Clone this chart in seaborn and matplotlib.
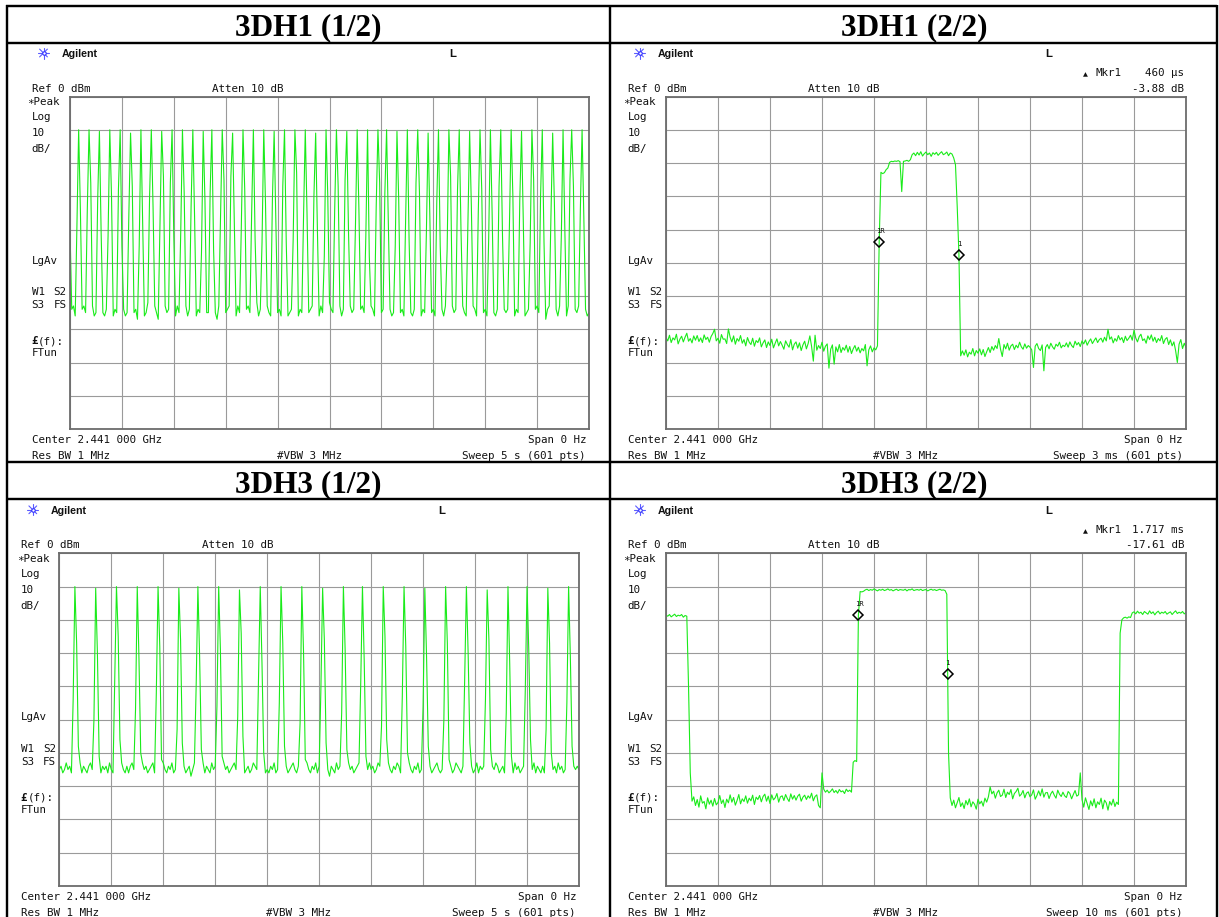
import numpy as np
import matplotlib
matplotlib.use("Agg")
import matplotlib.pyplot as plt
import seaborn as sns

# ---------------------------------------------------------------- data
# 3DH1 (1/2): zero-span sweep 5 s, 301 trace samples (dBm)
floor_3dh1_a = [
    -64, -65, -63, -66, -64, -65, -67, -64, -63, -65, -66, -64, -65, -63, -66, -65, -64, -66, -63, -65,
    -66, -64, -65, -62, -65, -66, -64, -65, -67, -63, -65, -64, -66, -65, -63, -64, -66, -65, -64, -67,
    -63, -65, -64, -66, -65, -62, -64, -66, -65, -63, -65, -67, -64, -65, -66, -63, -65, -64, -66, -65,
    -64, -66, -63, -65, -64, -66, -65, -63, -66, -64, -65, -62, -65, -66, -64, -65, -67, -64, -63, -65,
    -65, -63, -66, -64, -65, -67, -63, -65, -64, -66, -65, -64, -63, -66, -65, -64, -66, -63, -65, -64,
    -66, -65, -64, -63, -65, -66, -64, -65, -62, -66, -64, -65, -67, -64, -63, -65, -66, -64, -65, -63,
    -65, -64, -66, -65, -63, -64, -66, -65, -64, -67, -63, -65, -66, -64, -65, -63, -64, -66, -65, -64,
    -63, -66, -65, -64, -66, -63, -65, -64, -66, -65, -62, -64, -65, -66, -64, -65, -63, -66, -64, -65,
    -66, -64, -63, -65, -64, -66, -65, -67, -64, -63, -65, -66, -64, -65, -63, -64, -66, -65, -64, -62,
    -65, -64, -66, -63, -65, -64, -66, -65, -63, -64, -67, -65, -64, -66, -65, -63, -64, -65, -66, -64,
    -64, -65, -63, -66, -64, -65, -66, -64, -63, -65, -64, -66, -65, -62, -65, -64, -66, -63, -65, -64,
    -66, -63, -65, -64, -66, -65, -64, -63, -65, -66, -64, -65, -67, -63, -64, -66, -65, -64, -63, -65,
    -64, -66, -65, -63, -64, -65, -66, -64, -65, -63, -66, -64, -65, -64, -66, -63, -65, -66, -64, -65,
    -63, -65, -64, -66, -65, -64, -62, -65, -66, -64, -63, -65, -64, -66, -65, -67, -64, -63, -65, -66,
    -65, -64, -66, -63, -65, -64, -65, -66, -63, -64, -65, -66, -64, -65, -63, -66, -64, -65, -64, -66,
    -65,
]
pulse_idx_3dh1 = [0, 5, 11, 17, 23, 29, 35, 41, 47, 53, 59, 65, 71, 77, 82, 88, 94, 100, 106, 112,
                  118, 124, 130, 136, 142, 148, 154, 160, 166, 172, 178, 183, 189, 195, 201, 207,
                  213, 219, 225, 231, 237, 243, 249, 255, 261, 267, 273, 279, 285, 290, 296]
pulse_peak_3dh1 = [-40, -10, -10, -10.5, -10, -10, -11, -10, -10, -10.5,
                   -10, -10, -10, -10.5, -10, -10, -11, -10, -10, -10,
                   -10.5, -10, -10, -10, -11, -10, -10, -10.5, -10, -10,
                   -10, -10, -10.5, -10, -10, -11, -10, -10, -10, -10.5,
                   -10, -10, -10, -10, -10.5, -10, -10, -11, -10, -10,
                   -10]
pulse_lead_3dh1 = [-40, -39, -34, -31, -42, -28, -36, -45, -30, -38,
                   -26, -41, -33, -47, -29, -37, -24, -40, -35, -44,
                   -31, -27, -43, -36, -30, -48, -34, -25, -39, -42,
                   -33, -29, -45, -37, -26, -41, -32, -46, -28, -38,
                   -35, -43, -27, -39, -31, -44, -30, -36, -42, -25,
                   -34]
pulse_trail_3dh1 = [-64, -34, -26, -41, -30, -45, -27, -38, -33, -24,
                    -42, -29, -36, -31, -46, -25, -39, -28, -43, -32,
                    -37, -44, -23, -35, -40, -30, -27, -41, -34, -48,
                    -26, -38, -31, -43, -29, -36, -45, -24, -40, -33,
                    -28, -35, -42, -30, -37, -25, -44, -32, -39, -27,
                    -36]

# 3DH1 (2/2): zero-span sweep 3 ms, 301 trace samples (dBm)
trace_3dh1_b = [
    -72.5, -73.5, -71.8, -74.0, -72.6, -73.2, -71.5, -74.4, -73.0, -72.1, -73.8, -72.4, -71.2, -73.6, -72.8, -74.1, -72.0, -73.3, -71.9, -73.7,
    -72.6, -74.0, -71.7, -73.1, -72.4, -73.9, -72.2, -71.3, -70.0, -73.5, -72.7, -74.2, -71.6, -73.0, -72.9, -74.3, -69.9, -72.4, -73.8, -72.0,
    -74.5, -72.8, -73.6, -71.9, -74.2, -73.1, -75.0, -72.5, -73.9, -74.6, -72.7, -75.1, -73.4, -74.0, -72.6, -75.3, -74.1, -73.2, -75.5, -73.8,
    -74.9, -73.0, -75.6, -74.2, -72.9, -75.0, -73.7, -74.8, -76.0, -73.5, -74.6, -75.4, -73.1, -76.2, -74.5, -73.8, -75.7, -74.1, -76.4, -74.7,
    -73.6, -75.9, -74.3, -72.0, -75.2, -79.6, -71.8, -76.3, -74.9, -75.8, -73.9, -76.6, -75.1, -74.4, -81.7, -76.0, -74.7, -80.5, -75.3, -76.8,
    -74.6, -77.0, -75.5, -76.3, -74.8, -76.9, -75.2, -77.3, -75.9, -74.9, -76.6, -75.4, -77.1, -75.8, -76.5, -74.6, -81.0, -76.2, -75.0, -76.8,
    -75.6, -76.2,
    -75.0, -43.7,
    -22.8, -23.2, -22.9, -22.0, -21.5, -19.8, -19.5,
    -19.6, -19.4, -19.5, -19.3, -19.6, -28.6, -19.5, -19.4, -19.2, -19.5,
    -19.0, -17.5, -17.0, -17.8, -16.8, -17.6, -16.6, -17.9, -17.2, -16.7,
    -17.5, -17.0, -18.0, -16.9, -17.4, -16.8, -17.7, -17.1, -16.6, -17.5,
    -17.2, -16.7, -17.8, -17.0, -17.3, -18.5, -20.5, -33.0, -47.58, -78.0,
    -76.5, -77.8, -76.2, -78.3, -76.9, -77.5, -75.8, -78.0, -76.4, -77.2, -75.9, -77.7, -76.1, -78.2, -76.8, -75.5, -77.0, -75.2, -76.3, -74.9,
    -75.8, -72.8, -76.0, -78.2, -74.6, -75.9, -74.2, -76.3, -75.0, -74.5, -76.1, -74.8, -75.6, -73.9, -75.3, -76.0, -74.4, -75.7, -74.9, -75.4,
    -76.2, -81.5, -75.1, -74.3, -75.8, -76.4, -74.7, -82.5, -75.5, -74.6, -75.9, -74.2, -75.3, -76.0, -74.5, -75.1, -73.9, -75.6, -74.8, -75.2,
    -74.1, -75.4, -73.8, -74.9, -75.5, -73.6, -74.7, -74.0, -75.2, -73.5, -74.4, -73.2, -74.8, -73.7, -72.9, -74.3, -73.4, -72.6, -74.0, -73.1,
    -72.7, -73.9, -72.4, -73.5, -70.0, -73.0, -72.3, -74.1, -72.8, -73.6, -71.9, -73.2, -72.5, -74.0, -72.1, -73.4, -72.7, -71.8, -73.3, -70.3,
    -72.6, -73.8, -72.2, -71.5, -73.4, -72.9, -74.2, -72.0, -73.1, -71.7, -73.6, -72.4, -74.0, -72.8, -73.5, -71.9, -74.3, -73.0, -72.5, -74.6,
    -73.2, -75.0, -73.8, -76.4, -80.0, -74.5, -73.1, -75.8, -74.2, -75.5,
]
mkr_ref_idx_3dh1 = 123
mkr_dt_3dh1 = 0.460      # ms
mkr_ddb_3dh1 = -3.88     # dB

# 3DH3 (1/2): zero-span sweep 5 s, 301 trace samples (dBm)
floor_3dh3_a = [
    -65, -64, -66, -65, -63, -65, -64, -66, -65, -67, -64, -65, -63, -66, -64, -65, -66, -64, -63, -65,
    -64, -66, -65, -63, -66, -64, -65, -64, -66, -63, -65, -66, -64, -65, -67, -64, -63, -65, -66, -64,
    -66, -64, -63, -65, -66, -64, -65, -67, -63, -65, -64, -66, -65, -64, -63, -66, -65, -64, -66, -65,
    -63, -65, -66, -64, -65, -63, -66, -65, -64, -66, -65, -63, -64, -66, -65, -64, -67, -65, -63, -64,
    -66, -65, -64, -63, -66, -64, -65, -66, -63, -65, -64, -67, -65, -64, -66, -63, -65, -64, -66, -65,
    -64, -63, -65, -66, -64, -65, -63, -66, -65, -64, -66, -65, -63, -64, -65, -66, -64, -65, -63, -66,
    -65, -66, -64, -65, -63, -66, -65, -64, -67, -65, -63, -64, -66, -65, -64, -63, -65, -66, -64, -65,
    -66, -64, -65, -63, -65, -66, -64, -65, -63, -66, -64, -65, -66, -64, -63, -65, -67, -64, -65, -66,
    -63, -65, -64, -66, -65, -64, -66, -63, -65, -64, -66, -65, -64, -63, -66, -65, -64, -66, -65, -63,
    -65, -64, -66, -65, -63, -64, -66, -65, -64, -67, -63, -65, -66, -64, -65, -63, -64, -66, -65, -64,
    -64, -66, -63, -65, -66, -64, -65, -63, -66, -65, -64, -66, -63, -65, -64, -66, -65, -64, -63, -65,
    -66, -65, -64, -66, -63, -65, -64, -66, -65, -63, -64, -65, -66, -64, -65, -67, -63, -65, -64, -66,
    -65, -63, -66, -64, -65, -64, -66, -63, -65, -66, -64, -65, -63, -64, -66, -65, -64, -66, -65, -63,
    -64, -65, -66, -63, -65, -64, -66, -65, -64, -63, -66, -65, -64, -65, -63, -66, -64, -65, -66, -64,
    -66, -64, -65, -63, -66, -65, -64, -66, -63, -65, -64, -66, -65, -64, -63, -65, -66, -64, -65, -64,
    -65,
]
pulse_idx_3dh3 = [9, 21, 33, 45, 57, 69, 80, 92, 104, 116, 128, 140, 152, 164, 175, 187, 199, 211,
                  223, 235, 247, 259, 270, 282, 294]
pulse_peak_3dh3 = [-10, -10.5, -10, -10, -10, -10.5, -10, -10, -11, -10, -10, -10, -10.5, -10, -10,
                   -10, -10, -10.5, -10, -10, -11, -10, -10, -10.5, -10]
pulse_lead_3dh3 = [-44, -50, -38, -47, -42, -53, -40, -46, -49, -37, -45, -51, -41, -48, -39, -52,
                   -43, -46, -50, -38, -44, -48, -41, -53, -45]
pulse_trail_3dh3 = [-27, -30, -25, -32, -28, -26, -31, -29, -24, -33, -27, -30, -26, -29, -32, -25,
                    -28, -31, -27, -30, -26, -33, -29, -27, -31]
pulse_foot_3dh3 = [-58, -61, -56, -60, -62, -57, -59, -61, -55, -60, -58, -62, -57, -59, -61, -56,
                   -60, -58, -62, -57, -59, -61, -56, -60, -58]

# 3DH3 (2/2): zero-span sweep 10 ms, 301 trace samples (dBm)
trace_3dh3_b = [
    -18.6, -18.9, -18.4, -19.1, -18.7, -18.3, -19.0, -18.6, -18.8, -18.4, -19.2, -18.7, -18.9,
    -40.0, -66.0,
    -74.5, -73.2, -75.8, -74.0, -76.3, -72.9, -75.1, -74.6, -76.8, -73.5, -75.4, -74.2, -76.0, -73.7, -75.6, -74.9, -72.8, -75.2, -74.1, -76.4,
    -73.9, -75.0, -72.6, -74.8, -73.4, -75.7, -74.3, -72.5, -75.3, -73.8, -74.6, -72.9, -75.1, -73.6, -74.4, -72.7, -75.5, -73.3, -74.0, -72.8,
    -74.7, -73.1, -72.4, -74.5, -73.0, -75.2, -72.6, -74.1, -73.5, -72.2, -74.8, -73.2, -72.9, -74.3, -72.5, -73.7, -74.6, -72.3, -73.9, -72.8,
    -74.2, -73.0, -72.4, -74.5, -73.3, -72.7, -74.0, -72.9, -73.6, -72.1, -74.4, -73.1, -72.6, -75.8,
    -76.5, -66.0,
    -70.9, -71.8, -71.2, -72.0, -71.5, -70.8, -71.9, -71.3, -72.1, -71.0, -71.7, -71.4, -72.2, -70.9, -71.6, -71.2, -71.8,
    -62.8, -62.3, -62.6,
    -18.55,
    -11.5, -11.6, -11.4,
    -11.0, -10.8, -11.2, -10.9, -11.1, -10.7, -11.0, -11.3, -10.9, -11.1,
    -10.8, -11.2, -11.0, -10.7, -11.1, -10.9, -11.3, -11.0, -10.8, -11.2,
    -10.9, -11.0, -11.1, -10.8, -11.3, -10.9, -11.0, -10.7, -11.2, -11.0,
    -10.9, -11.1, -10.8, -11.2, -11.0, -10.9, -11.3, -11.0, -10.8, -11.1,
    -10.9, -11.2, -11.0, -10.8, -11.1, -11.0, -11.2,
    -12.3, -60.0,
    -73.5, -75.8, -74.2, -76.5, -74.9, -73.4, -76.1, -75.0, -76.7, -74.3, -75.6, -73.8, -76.2, -74.7, -75.4, -76.9, -73.9, -75.3, -74.5, -76.0,
    -73.6, -74.8, -73.2,
    -70.2,
    -72.3, -71.5, -73.6, -72.0, -71.2, -73.1, -72.7, -70.9, -73.4, -71.8, -72.5, -71.0, -73.8, -72.2, -71.6, -70.6, -73.0, -72.4, -71.3, -73.5,
    -72.1, -71.7, -73.2, -72.6, -71.1, -73.9, -72.8, -71.4, -72.9, -70.8, -73.3, -72.0, -71.9, -73.7, -72.3, -71.5, -72.7, -73.6, -71.2, -72.4,
    -73.1, -71.8, -72.9, -73.4, -71.6, -72.2, -73.8, -72.5, -71.3, -73.0, -72.6,
    -66.0,
    -74.0, -76.3, -73.5, -75.2, -77.0, -74.4, -75.9, -73.8, -76.5, -74.7, -75.5, -73.6, -76.8, -74.2, -75.0, -77.2, -74.6, -75.7, -73.9, -76.1,
    -74.8,
    -75.5, -24.0,
    -20.0, -19.4, -19.2, -19.5, -19.1, -19.3,
    -17.9,
    -17.6, -18.2, -17.4, -18.0, -17.7, -18.4, -17.5, -17.9, -18.3, -17.3, -18.1, -17.6, -18.5, -17.8, -17.4, -18.2, -17.7, -18.0, -17.5, -18.3,
    -17.9, -17.6, -18.4, -17.8, -17.3, -18.1, -17.7, -18.0, -17.5, -18.2, -17.8,
]
mkr_ref_idx_3dh3 = 111
mkr_dt_3dh3 = 1.717      # ms
mkr_ddb_3dh3 = -17.61    # dB

titles = ["3DH1 (1/2)", "3DH1 (2/2)", "3DH3 (1/2)", "3DH3 (2/2)"]
sweep_labels = ["Sweep 5 s (601 pts)", "Sweep 3 ms (601 pts)",
                "Sweep 5 s (601 pts)", "Sweep 10 ms (601 pts)"]
sweep_spans = [5.0, 3.0, 5.0, 10.0]

# ---------------------------------------------------------------- helpers
W, H, DPI = 1219, 917, 100
TRACE = "#1aeb1a"
MONO = "DejaVu Sans Mono"
PX = 72.0 / DPI  # points per pixel


def pulse_trace(floor, idx, peak, lead, trail, foot=None):
    y = np.array(floor, dtype=float)
    n = len(y)
    for k, i in enumerate(idx):
        y[i] = peak[k]
        if i - 1 >= 0:
            y[i - 1] = lead[k]
        if i + 1 < n:
            y[i + 1] = trail[k]
        if foot is not None and i + 2 < n:
            y[i + 2] = foot[k]
    return y


sns.set_theme(style="white")
plt.rcParams["font.family"] = ["DejaVu Sans"]

fig = plt.figure(figsize=(W / DPI, H / DPI), dpi=DPI)
bg = fig.add_axes([0, 0, 1, 1])
bg.set_xlim(0, W)
bg.set_ylim(H, 0)
bg.axis("off")


def mono(x, y, s, ha="left", size=7.8, **kw):
    bg.text(x, y, s, ha=ha, va="baseline", fontsize=size, family=MONO, color="#111111", **kw)


def star(cx, cy):
    for a in np.arange(0, np.pi, np.pi / 4):
        dx, dy = 5.5 * np.cos(a), 5.5 * np.sin(a)
        bg.plot([cx - dx, cx + dx], [cy - dy, cy + dy], color="#5a5aff", lw=0.8)
    bg.plot([cx], [cy], marker="o", ms=2.5, color="white", mec="#3030ff", mew=0.8)


def panel(L, T, R, B, t, y, span, sweep, marker=None):
    # screen chrome
    star(L - 26.5, T - 43.5)
    bg.text(L - 8.3, T - 39.8, "Agilent", fontsize=7.7, family="Liberation Sans",
            weight="bold", va="baseline", color="#111111")
    bg.text(L + 379, T - 39.5, "L", fontsize=8.2, family="Liberation Sans",
            weight="bold", va="baseline", color="#111111")
    mono(L - 38.5, T - 5, "Ref 0 dBm")
    mono(L + 142.3, T - 5, "Atten 10 dB")
    mono(L - 42.5, T + 8.5, "\u2217Peak")
    mono(L - 38.5, T + 24, "Log")
    mono(L - 38.5, T + 40, "10")
    mono(L - 38.5, T + 55.5, "dB/")
    mono(L - 38.5, T + 167, "LgAv")
    mono(L - 38.5, T + 198.5, "W1")
    mono(L - 16.5, T + 198.5, "S2")
    mono(L - 38.5, T + 212, "S3")
    mono(L - 16.5, T + 212, "FS")
    bg.text(L - 38.5, T + 247.5, "\u00a3", fontsize=7.8, family=MONO, weight="bold",
            va="baseline", color="#111111")
    mono(L - 32, T + 247.5, "(f):")
    mono(L - 38.5, T + 260, "FTun")
    mono(L - 38.5, B + 14, "Center 2.441 000 GHz")
    mono(L - 38.5, B + 30, "Res BW 1 MHz")
    mono(L + 207, B + 30, "#VBW 3 MHz")
    mono(R - 3, B + 14, "Span 0 Hz", ha="right")
    mono(R - 3, B + 30, sweep, ha="right")

    ax = fig.add_axes([L / W, 1 - B / H, (R - L) / W, (B - T) / H])
    sns.lineplot(x=t, y=y, ax=ax, color=TRACE, linewidth=0.8, estimator=None,
                 sort=False, legend=False)
    ax.set_xlim(0, span)
    ax.set_ylim(-100, 0)
    ax.set_xticks(np.linspace(0, span, 11))
    ax.set_yticks(np.arange(-100, 1, 10))
    ax.grid(True, color="#9a9a9a", linewidth=0.8)
    ax.set_axisbelow(True)
    ax.tick_params(length=0, labelbottom=False, labelleft=False)
    ax.set_xlabel("")
    ax.set_ylabel("")
    ax.set_facecolor("white")
    for sp in ax.spines.values():
        sp.set_visible(True)
        sp.set_color("#6c6c6c")
        sp.set_linewidth(1.3)

    if marker is None:
        bg.text(R - 2.5, T + 309, "^", fontsize=5, family=MONO, color="#555555",
                ha="center", va="center")
    else:
        ref_i, dt, ddb, dt_label = marker
        t_r, y_r = t[ref_i], y[ref_i]
        t_1, y_1 = t_r + dt, y_r + ddb
        ax.plot([t_r, t_1], [y_r, y_1], ls="none", marker="D", ms=5.2,
                mfc="none", mec="black", mew=1.1, zorder=5)
        ax.annotate("1R", (t_r, y_r), xytext=(0.6, 5.5), textcoords="offset points",
                    ha="center", va="bottom", fontsize=5.2, family=MONO, color="#111111")
        ax.annotate("1", (t_1, y_1), xytext=(0, 5.5), textcoords="offset points",
                    ha="center", va="bottom", fontsize=5.2, family=MONO, color="#111111")
        bg.text(R - 103, T - 20, "\u25b2", fontsize=4.6, family="DejaVu Sans",
                va="baseline", color="#111111")
        mono(R - 91, T - 20, "Mkr1")
        mono(R - 2, T - 20, dt_label, ha="right")
        mono(R - 2, T - 5, f"{ddb:.2f} dB", ha="right")
    return ax


# ---------------------------------------------------------------- traces
y1 = pulse_trace(floor_3dh1_a, pulse_idx_3dh1, pulse_peak_3dh1, pulse_lead_3dh1, pulse_trail_3dh1)
t1 = np.arange(len(y1)) * sweep_spans[0] / (len(y1) - 1)
y2 = np.array(trace_3dh1_b, dtype=float)
t2 = np.arange(len(y2)) * sweep_spans[1] / (len(y2) - 1)
y3 = pulse_trace(floor_3dh3_a, pulse_idx_3dh3, pulse_peak_3dh3, pulse_lead_3dh3,
                 pulse_trail_3dh3, pulse_foot_3dh3)
t3 = np.arange(len(y3)) * sweep_spans[2] / (len(y3) - 1)
y4 = np.array(trace_3dh3_b, dtype=float)
t4 = np.arange(len(y4)) * sweep_spans[3] / (len(y4) - 1)

panel(70, 96.5, 589, 429, t1, y1, sweep_spans[0], sweep_labels[0])
panel(666, 96.5, 1186, 429, t2, y2, sweep_spans[1], sweep_labels[1],
      marker=(mkr_ref_idx_3dh1, mkr_dt_3dh1, mkr_ddb_3dh1, f"{mkr_dt_3dh1 * 1000:.0f} \u03bcs"))
panel(59.3, 553.3, 579, 886, t3, y3, sweep_spans[2], sweep_labels[2])
panel(666, 553.3, 1186, 886, t4, y4, sweep_spans[3], sweep_labels[3],
      marker=(mkr_ref_idx_3dh3, mkr_dt_3dh3, mkr_ddb_3dh3, f"{mkr_dt_3dh3:.3f} ms"))

# ---------------------------------------------------------------- table frame
LW = 2.4 * PX
for yy in (6, 42.7, 462, 499):
    bg.plot([6, 1217], [yy, yy], color="black", lw=LW, solid_capstyle="butt")
for xx in (6.7, 610, 1216.5):
    bg.plot([xx, xx], [5, H], color="black", lw=LW, solid_capstyle="butt")

title_kw = dict(ha="center", va="baseline", fontsize=22.5, family="Liberation Serif",
                weight="bold", color="black")
bg.text(308.5, 35, titles[0], **title_kw)
bg.text(914, 35, titles[1], **title_kw)
bg.text(308.5, 492.5, titles[2], **title_kw)
bg.text(914, 492.5, titles[3], **title_kw)

fig.savefig("out.png", dpi=DPI, facecolor="white")
